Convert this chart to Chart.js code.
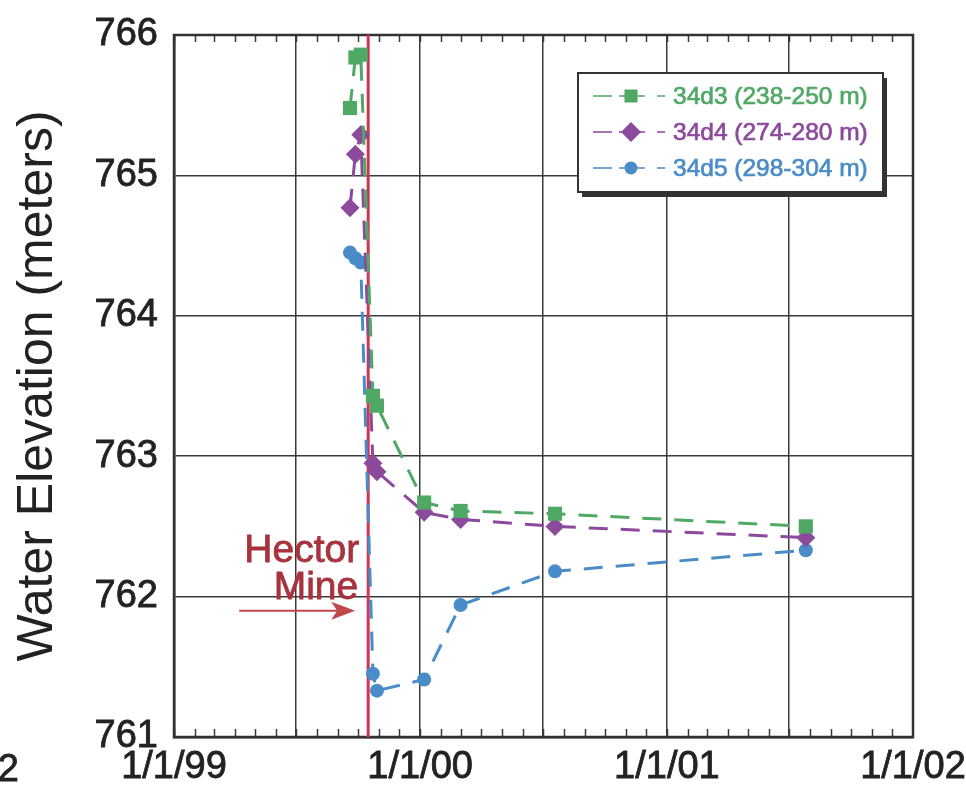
<!DOCTYPE html>
<html><head><meta charset="utf-8">
<script src="https://cdn.jsdelivr.net/npm/chart.js@4/dist/chart.umd.min.js"></script>
<style>html,body{margin:0;padding:0;background:#fff;overflow:hidden}#wrap{width:966px;height:785px;position:relative}</style>
</head><body><div id="wrap"><canvas id="c" width="966" height="785"></canvas></div>
<script>
// ---- data ----
const sampleDates = ['1999-09-19','1999-09-27','1999-10-05','1999-10-23','1999-10-29','2000-01-07','2000-03-01','2000-07-19','2001-07-26'];
const d3Values = [765.48, 765.84, 765.86, 763.43, 763.36, 762.67, 762.61, 762.59, 762.50];
const d4Values = [764.77, 765.15, 765.29, 762.95, 762.89, 762.60, 762.55, 762.50, 762.42];
const d5Values = [764.45, 764.41, 764.38, 761.45, 761.33, 761.41, 761.94, 762.18, 762.33];
const seriesLabels = ['34d3 (238-250 m)', '34d4 (274-280 m)', '34d5 (298-304 m)'];
const xTickDates = ['1999-01-01','1999-07-01','2000-01-01','2000-07-01','2001-01-01','2001-07-01','2002-01-01'];
const xTickLabels = ['1/1/99','','1/1/00','','1/1/01','','1/1/02'];
const yTicks = [761, 762, 763, 764, 765, 766];
const eventDate = '1999-10-16';
const eventLabel = ['Hector', 'Mine'];
const yTitle = 'Water Elevation (meters)';

// ---- helpers ----
const ORIGIN = Date.UTC(1999, 0, 1);
function dayOf(s) { const p = s.split('-').map(Number); return (Date.UTC(p[0], p[1]-1, p[2]) - ORIGIN) / 86400000; }
const FONT = "'Liberation Sans', Arial, Helvetica, sans-serif";
const TXT = '#222';
const GREEN = '#50a865', PURPLE = '#8c4a9c', BLUE = '#4a8cc8';
const colors = [GREEN, PURPLE, BLUE];
const styles = ['rect', 'rectRot', 'circle'];
const radii = [10, 9.5, 7];
const valueSets = [d3Values, d4Values, d5Values];

const datasets = valueSets.map((vals, i) => ({
  label: seriesLabels[i],
  data: sampleDates.map((d, j) => ({ x: dayOf(d), y: vals[j] })),
  borderColor: colors[i],
  backgroundColor: colors[i],
  pointBackgroundColor: colors[i],
  pointBorderColor: colors[i],
  pointBorderWidth: 0,
  pointStyle: styles[i],
  pointRadius: radii[i],
  borderWidth: 3,
  borderDash: [19, 13],
  tension: 0,
  fill: false
}));

function boldText(ctx, t, x, y, w) {
  ctx.fillText(t, x, y);
  ctx.lineWidth = w; ctx.strokeStyle = ctx.fillStyle; ctx.setLineDash([]);
  ctx.strokeText(t, x, y);
}

const extras = {
  id: 'extras',
  beforeDatasetsDraw(chart) {
    const { ctx, chartArea: a, scales: { x, y } } = chart;
    ctx.save();
    ctx.strokeStyle = '#3a3a3a'; ctx.lineWidth = 1.5;
    for (let yr = 1999; yr <= 2001; yr++) {
      for (let m = 0; m < 12; m++) {
        const v = (Date.UTC(yr, m, 1) - ORIGIN) / 86400000;
        const px = Math.round(x.getPixelForValue(v)) + 0.5;
        ctx.beginPath();
        ctx.moveTo(px, a.bottom); ctx.lineTo(px, a.bottom - 8);
        ctx.moveTo(px, a.top); ctx.lineTo(px, a.top + 7);
        ctx.stroke();
      }
    }
    ctx.strokeStyle = '#333'; ctx.lineWidth = 2.5;
    ctx.strokeRect(a.left, a.top, a.right - a.left, a.bottom - a.top);
    const ex = x.getPixelForValue(dayOf(eventDate));
    ctx.strokeStyle = '#d3344f'; ctx.lineWidth = 3;
    ctx.beginPath(); ctx.moveTo(ex, a.top); ctx.lineTo(ex, a.bottom); ctx.stroke();
    ctx.fillStyle = '#a8323e';
    ctx.font = '39px ' + FONT;
    ctx.textAlign = 'right'; ctx.textBaseline = 'alphabetic';
    boldText(ctx, eventLabel[0], ex - 9, y.getPixelForValue(762.25), 0.8);
    boldText(ctx, eventLabel[1], ex - 10, y.getPixelForValue(761.985), 0.8);
    const ay = y.getPixelForValue(761.9);
    ctx.strokeStyle = '#c0474a'; ctx.fillStyle = '#c0474a'; ctx.lineWidth = 2;
    ctx.beginPath(); ctx.moveTo(ex - 129, ay); ctx.lineTo(ex - 30, ay); ctx.stroke();
    ctx.beginPath();
    ctx.moveTo(ex - 13, ay); ctx.lineTo(ex - 37, ay - 9); ctx.lineTo(ex - 31, ay); ctx.lineTo(ex - 37, ay + 9);
    ctx.closePath(); ctx.fill();
    ctx.restore();
  },
  afterDraw(chart) {
    const { ctx, chartArea: a } = chart;
    ctx.save();
    const bw = 305, bh = 119;
    const bx = a.right - 30 - bw, by = a.top + 38;
    ctx.fillStyle = '#333';
    ctx.fillRect(bx + 4, by + 5, bw, bh);
    ctx.fillStyle = '#fff';
    ctx.fillRect(bx, by, bw, bh);
    ctx.strokeStyle = '#333'; ctx.lineWidth = 2;
    ctx.strokeRect(bx, by, bw, bh);
    const lr = [9.2, 10, 6.5];
    chart.data.datasets.forEach((ds, i) => {
      const cy = by + 23 + 36 * i;
      ctx.strokeStyle = ds.borderColor; ctx.fillStyle = ds.borderColor; ctx.lineWidth = 1.5;
      ctx.beginPath();
      [[15, 34], [41, 67], [79, 87]].forEach(s => { ctx.moveTo(bx + s[0], cy); ctx.lineTo(bx + s[1], cy); });
      ctx.stroke();
      Chart.helpers.drawPoint(ctx, { pointStyle: ds.pointStyle, radius: lr[i], rotation: 0, borderWidth: 0 }, bx + 53, cy);
      ctx.fillStyle = ds.borderColor;
      ctx.font = '24.5px ' + FONT;
      ctx.textAlign = 'left'; ctx.textBaseline = 'middle';
      boldText(ctx, ds.label, bx + 95, cy + 1, 0.7);
    });
    ctx.fillStyle = TXT; ctx.font = '38px ' + FONT;
    ctx.textAlign = 'right'; ctx.textBaseline = 'alphabetic';
    boldText(ctx, '2', 19, 781, 0.8);
    ctx.restore();
  }
};

new Chart(document.getElementById('c'), {
  type: 'line',
  data: { datasets },
  options: {
    responsive: false,
    animation: false,
    layout: { padding: { top: 35, right: 53, left: 0, bottom: 0 } },
    plugins: { legend: { display: false }, tooltip: { enabled: false } },
    scales: {
      x: {
        type: 'linear',
        min: dayOf(xTickDates[0]),
        max: dayOf(xTickDates[xTickDates.length - 1]),
        afterBuildTicks: s => { s.ticks = xTickDates.map(d => ({ value: dayOf(d) })); },
        ticks: { autoSkip: false, maxRotation: 0, color: TXT, padding: 8,
          textStrokeColor: TXT, textStrokeWidth: 0.8,
          font: { family: FONT, size: 38 }, callback: (v, i) => xTickLabels[i] },
        grid: { color: '#3a3a3a', lineWidth: 1.5, drawTicks: false },
        border: { color: '#333', width: 2.5 },
        afterFit: s => { s.height = 48; s.paddingLeft = 0; s.paddingRight = 0; }
      },
      y: {
        min: yTicks[0], max: yTicks[yTicks.length - 1],
        afterBuildTicks: s => { s.ticks = yTicks.map(v => ({ value: v })); },
        ticks: { color: TXT, padding: 16, textStrokeColor: TXT, textStrokeWidth: 0.8,
          font: { family: FONT, size: 38 }, callback: v => String(v) },
        grid: { color: '#3a3a3a', lineWidth: 1.5, drawTicks: false },
        border: { color: '#333', width: 2.5 },
        title: { display: true, text: yTitle, color: TXT, font: { family: FONT, size: 50 }, padding: { top: 8, bottom: 0 } },
        afterFit: s => { s.width = 174; s.paddingTop = 0; s.paddingBottom = 0; }
      }
    }
  },
  plugins: [extras]
});
</script></body></html>
